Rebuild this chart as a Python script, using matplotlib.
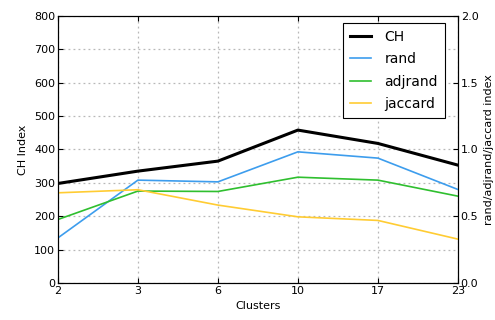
import matplotlib
matplotlib.use("Agg")
from matplotlib import pyplot as plt
import numpy as np

clusters = ["2", "3", "6", "10", "17", "23"]
ch_index = [298, 335, 365, 458, 418, 353]
rand = [0.337, 0.770, 0.757, 0.982, 0.935, 0.700]
adjrand = [0.475, 0.688, 0.685, 0.792, 0.770, 0.650]
jaccard = [0.675, 0.698, 0.583, 0.495, 0.468, 0.328]

plt.rcParams['font.family'] = ['DejaVu Sans']
plt.rcParams['xtick.direction'] = 'in'
plt.rcParams['ytick.direction'] = 'in'

fig = plt.figure(figsize=(4.95, 3.2), dpi=100)
ax = fig.add_axes([0.117, 0.116, 0.808, 0.834])
x = np.arange(len(clusters))

l1, = ax.plot(x, ch_index, color='black', lw=2.2, label='CH')
ax.set_xlim(0, len(clusters) - 1)
ax.set_ylim(0, 800)
ax.set_xticks(x)
ax.set_xticklabels(clusters)
ax.set_xlabel('Clusters', fontsize=8)
ax.set_ylabel('CH Index', fontsize=8)
ax.tick_params(labelsize=8, top=True, pad=2)
ax.grid(True, color='#b8b8b8', linestyle=(0, (1.5, 2.5)), lw=0.9)

ax2 = ax.twinx()
l2, = ax2.plot(x, rand, color='#3d9ded', lw=1.2, label='rand')
l3, = ax2.plot(x, adjrand, color='#2fbf2f', lw=1.2, label='adjrand')
l4, = ax2.plot(x, jaccard, color='#ffcc33', lw=1.2, label='jaccard')
ax2.set_ylim(0, 2.0)
ax2.set_yticks([0.0, 0.5, 1.0, 1.5, 2.0])
ax2.set_ylabel('rand/adjrand/jaccard index', fontsize=8)
ax2.tick_params(labelsize=8, pad=2)

leg = ax2.legend(handles=[l1, l2, l3, l4], loc='upper right',
                 bbox_to_anchor=(0.9675, 0.974), borderaxespad=0,
                 fontsize=10, labelspacing=0.6, handlelength=1.5,
                 handletextpad=1.0, borderpad=0.5,
                 fancybox=False, framealpha=1, edgecolor='black')
leg.get_frame().set_linewidth(0.8)

fig.savefig('out.png', dpi=100)
